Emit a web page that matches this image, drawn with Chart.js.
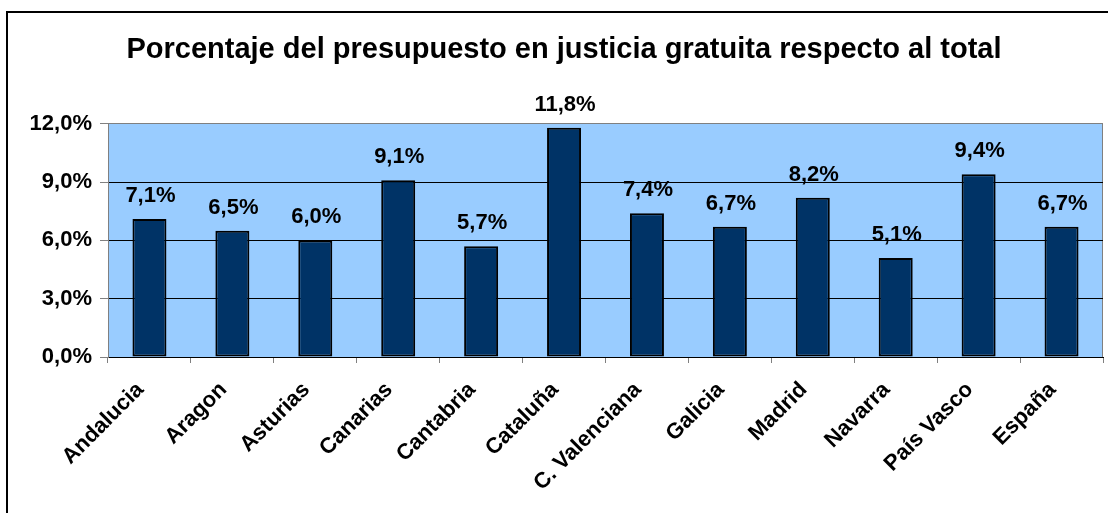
<!DOCTYPE html>
<html>
<head>
<meta charset="utf-8">
<script src="https://cdn.jsdelivr.net/npm/chart.js@4"></script>
<style>
  html, body { margin: 0; padding: 0; background: #fff; }
  #c { display: block; }
</style>
</head>
<body>
<canvas id="c" width="1108" height="513"></canvas>
<script>
const TITLE = 'Porcentaje del presupuesto en justicia gratuita respecto al total';
const categories = ['Andalucia', 'Aragon', 'Asturias', 'Canarias', 'Cantabria', 'Cataluña',
  'C. Valenciana', 'Galicia', 'Madrid', 'Navarra', 'País Vasco', 'España'];
const values = [7.1, 6.5, 6.0, 9.1, 5.7, 11.8, 7.4, 6.7, 8.2, 5.1, 9.4, 6.7];
const yTicks = [0, 3, 6, 9, 12];

const FONT = "'Liberation Sans', Arial, Helvetica, sans-serif";
const fmt = v => v.toFixed(1).replace('.', ',') + '%';

const decor = {
  id: 'decor',
  beforeDraw(chart) {
    const { ctx, chartArea: a } = chart;
    ctx.save();
    ctx.fillStyle = '#99CCFF';
    ctx.fillRect(a.left, a.top, a.right - a.left, a.bottom - a.top);
    ctx.strokeStyle = '#808080';
    ctx.lineWidth = 1;
    ctx.beginPath();
    ctx.moveTo(Math.round(a.right) - 0.5, a.top);
    ctx.lineTo(Math.round(a.right) - 0.5, a.bottom);
    ctx.stroke();
    // outer frame (cropped at right/bottom)
    ctx.strokeStyle = '#000';
    ctx.lineWidth = 2;
    ctx.beginPath();
    ctx.moveTo(7, chart.height);
    ctx.lineTo(7, 12);
    ctx.lineTo(chart.width, 12);
    ctx.stroke();
    ctx.restore();
  },
  afterDatasetsDraw(chart) {
    const { ctx } = chart;
    const meta = chart.getDatasetMeta(0);
    ctx.save();
    ctx.font = "bold 22px " + FONT;
    ctx.fillStyle = '#000';
    ctx.textAlign = 'center';
    ctx.textBaseline = 'alphabetic';
    meta.data.forEach((bar, i) => {
      ctx.fillText(fmt(values[i]), bar.x + 1, bar.y - 17);
    });
    ctx.restore();
  }
};

new Chart(document.getElementById('c'), {
  type: 'bar',
  data: {
    labels: categories,
    datasets: [{
      data: values,
      backgroundColor: '#003366',
      borderColor: '#000',
      borderWidth: 2,
      borderSkipped: false,
      categoryPercentage: 1,
      barPercentage: 0.41
    }]
  },
  options: {
    responsive: false,
    animation: false,
    layout: { padding: { left: 25, right: 5, top: 0, bottom: 0 } },
    plugins: {
      legend: { display: false },
      tooltip: { enabled: false },
      title: {
        display: true,
        text: TITLE,
        color: '#000',
        font: { family: FONT, size: 29, weight: 'bold' },
        padding: { top: 33, bottom: 56 }
      }
    },
    scales: {
      x: {
        offset: true,
        grid: {
          offset: true,
          drawOnChartArea: false,
          drawTicks: true,
          tickLength: 6,
          tickColor: '#808080'
        },
        border: { display: true, color: '#000', width: 1 },
        ticks: {
          color: '#000',
          font: { family: FONT, size: 22, weight: 'bold' },
          minRotation: 45,
          maxRotation: 45,
          autoSkip: false,
          padding: 14,
          labelOffset: -9
        },
        afterFit(scale) { scale.height = 156; }
      },
      y: {
        min: 0,
        max: 12,
        afterBuildTicks(scale) { scale.ticks = yTicks.map(v => ({ value: v })); },
        grid: {
          color: ctx => (ctx.tick && ctx.tick.value === 12) ? '#808080' : '#000',
          tickColor: '#808080',
          tickLength: 8,
          drawTicks: true
        },
        border: { display: true, color: '#808080', width: 1 },
        ticks: {
          color: '#000',
          font: { family: FONT, size: 22, weight: 'bold' },
          padding: 8,
          callback: v => fmt(v)
        },
        afterFit(scale) { scale.width = 83; }
      }
    }
  },
  plugins: [decor]
});
</script>
</body>
</html>
